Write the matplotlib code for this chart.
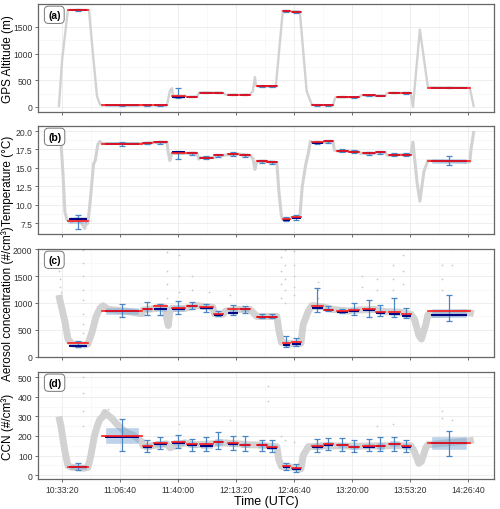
import numpy as np
import matplotlib
matplotlib.use("Agg")
import matplotlib.pyplot as plt
from matplotlib.patches import Rectangle
from matplotlib.ticker import FuncFormatter

plt.rcParams['font.family'] = ['Liberation Sans', 'DejaVu Sans']

# time in minutes after 10:00:00 UTC
seg_start = [36.8, 56.3, 79.9, 86.2, 96.6, 105.2, 112.6, 120.7, 128.7, 135.6, 145.4, 151.4,
             160.3, 165.5, 177.0, 183.9, 191.4, 198.3, 206.3, 213.8, 221.3, 228.7, 243.7]
seg_end = [48.3, 79.3, 85.1, 93.7, 104.0, 110.9, 120.1, 125.9, 134.5, 141.4, 151.0, 156.9,
           164.4, 170.7, 183.3, 189.1, 197.7, 204.0, 213.2, 219.0, 227.6, 233.9, 267.8]

# (a) GPS altitude
alt_t = [31.6, 33.5, 36.8, 48.9, 50.6, 53.5, 55.2, 56.3, 93.7, 95.4, 96.6, 97.2, 104.0, 105.2,
         110.9, 112.0, 112.6, 120.1, 125.9, 127.5, 141.4, 143.1, 144.3, 144.9, 145.4, 156.3,
         160.3, 170.1, 174.0, 177.0, 189.1, 190.5, 204.0, 205.5, 219.0, 220.5, 233.9, 235.1,
         239.1, 243.7, 267.8, 270.1]
alt_v = [0, 900, 1820, 1820, 1200, 200, 50, 30, 30, 300, 350, 215, 210, 190,
         190, 260, 275, 270, 265, 230, 230, 300, 560, 400, 390, 385,
         1800, 1790, 300, 40, 30, 180, 185, 220, 215, 265, 262, 0,
         1450, 370, 360, 0]
alt_mean = [1820, 30, 30, 30, 212, 194, 270, 265, 230, 230, 390, 385,
            1800, 1785, 35, 30, 190, 185, 220, 215, 265, 262, 360]
alt_med = [1820, 30, 30, 30, 181, 194, 270, 265, 230, 230, 390, 385,
           1800, 1785, 35, 30, 190, 185, 220, 215, 265, 262, 360]
alt_q1 = [1812, 25, 25, 25, 175, 188, 264, 259, 224, 224, 384, 379,
          1792, 1777, 29, 24, 184, 179, 214, 209, 259, 256, 354]
alt_q3 = [1828, 35, 35, 35, 230, 200, 276, 271, 236, 236, 396, 391,
          1808, 1793, 41, 36, 196, 191, 226, 221, 271, 268, 366]
alt_lo = [1805, 20, 20, 20, 170, 185, 260, 255, 220, 220, 380, 375,
          1785, 1770, 25, 20, 180, 175, 210, 205, 255, 252, 350]
alt_hi = [1835, 40, 40, 40, 350, 205, 280, 275, 240, 240, 400, 395,
          1815, 1800, 45, 40, 200, 195, 230, 225, 275, 272, 370]

# (b) temperature
tmp_t = [31.6, 32.8, 34.0, 35.1, 36.2, 38.0, 42.0, 45.0, 46.5, 47.5, 48.3, 50.0, 51.5, 52.5,
         54.0, 55.2, 56.3, 79.3, 85.1, 93.7, 94.5, 95.4, 96.6, 104.0, 110.9, 112.0, 112.6,
         120.1, 125.9, 134.5, 141.4, 143.1, 144.3, 145.4, 151.2, 156.9, 158.0, 159.5, 160.3,
         164.4, 165.5, 170.1, 171.5, 173.5, 175.0, 176.2, 177.0, 183.3, 189.1, 190.0, 191.4,
         197.7, 204.0, 205.3, 206.3, 213.2, 219.0, 220.5, 227.6, 233.9, 235.1, 237.5, 239.1,
         241.4, 243.7, 255.0, 267.8, 268.5, 270.1]
tmp_v = [19.8, 18.5, 14.0, 9.0, 8.0, 7.6, 8.1, 7.4, 6.8, 7.6, 7.5, 11.5, 15.5, 16.0,
         18.2, 18.6, 18.3, 18.3, 18.4, 18.5, 17.0, 16.0, 17.0, 17.0, 17.0, 16.2, 16.4,
         16.4, 16.7, 16.9, 16.7, 16.3, 14.8, 15.9, 15.9, 15.7, 12.0, 8.5, 8.0,
         8.1, 8.3, 8.4, 12.5, 15.5, 17.0, 18.6, 18.45, 18.45, 18.6, 17.4, 17.3,
         17.3, 17.2, 16.9, 17.0, 17.0, 17.1, 16.7, 16.8, 16.8, 18.5, 13.0, 10.5,
         14.5, 16.0, 15.9, 15.8, 17.5, 20.0]
tmp_mean = [7.8, 18.3, 18.4, 18.5, 17.0, 17.0, 16.4, 16.7, 16.9, 16.7, 15.9, 15.75,
            8.1, 8.3, 18.45, 18.6, 17.3, 17.2, 17.0, 17.1, 16.8, 16.8, 15.95]
tmp_med = [8.1, 18.3, 18.4, 18.5, 17.1, 17.0, 16.4, 16.7, 16.9, 16.7, 15.9, 15.75,
           8.0, 8.25, 18.4, 18.6, 17.3, 17.2, 17.0, 17.1, 16.8, 16.8, 16.0]
tmp_q1 = [7.55, 18.2, 18.3, 18.4, 16.85, 16.9, 16.3, 16.6, 16.8, 16.6, 15.8, 15.65,
          7.95, 8.15, 18.35, 18.5, 17.2, 17.1, 16.9, 17.0, 16.7, 16.7, 15.7]
tmp_q3 = [8.3, 18.45, 18.5, 18.6, 17.2, 17.1, 16.5, 16.8, 17.0, 16.8, 16.0, 15.85,
          8.25, 8.45, 18.55, 18.7, 17.4, 17.3, 17.1, 17.2, 16.9, 16.9, 16.2]
tmp_lo = [6.75, 18.0, 18.2, 18.3, 16.2, 16.8, 16.2, 16.5, 16.6, 16.5, 15.7, 15.55,
          7.8, 8.0, 18.25, 18.4, 17.1, 17.0, 16.8, 16.9, 16.6, 16.6, 15.4]
tmp_hi = [8.6, 18.5, 18.55, 18.65, 17.3, 17.2, 16.6, 16.9, 17.2, 16.9, 16.1, 15.95,
          8.4, 8.6, 18.65, 18.8, 17.5, 17.4, 17.2, 17.3, 17.0, 17.0, 16.6]

# (c) aerosol concentration
aer_t = [31.6, 32.2, 33.3, 35.1, 36.8, 39.1, 42.0, 46.5, 48.3, 50.6, 53.0, 55.2, 57.0, 60.0,
         70.0, 79.3, 80.0, 85.1, 90.0, 92.5, 93.7, 94.5, 95.4, 96.6, 104.0, 110.9, 120.1,
         121.0, 125.9, 127.5, 134.5, 141.4, 145.4, 156.9, 158.0, 159.5, 164.4, 170.7, 172.0,
         175.0, 177.0, 183.3, 189.0, 197.7, 204.0, 213.2, 219.0, 227.6, 233.9, 236.0, 238.5,
         240.0, 242.5, 243.7, 256.0, 267.8, 270.1]
aer_v = [1150, 1050, 900, 650, 330, 240, 220, 220, 240, 450, 750, 900, 950, 880,
         850, 800, 870, 890, 930, 920, 700, 580, 850, 900, 900, 950, 920,
         800, 790, 850, 880, 880, 750, 750, 500, 270, 240, 250, 600,
         850, 950, 930, 880, 850, 870, 880, 840, 830, 790, 700, 400,
         330, 600, 780, 800, 820, 800]
aer_out_t = [31.8, 32.0, 32.3, 32.6, 45.4, 45.4, 45.4, 45.4, 45.4, 45.4, 45.4, 45.4,
             93.5, 93.5, 93.5, 93.5, 100.9, 100.9, 100.9, 108.0, 108.0, 118.0, 130.0,
             159.5, 159.5, 159.5, 159.5, 159.5, 161.8, 161.8, 161.8, 161.8, 161.8, 166.8,
             166.8, 166.8, 166.8, 166.8, 180.5, 180.5, 180.5, 205.7, 205.7, 214.4, 214.4,
             223.6, 223.6, 223.6, 229.5, 229.5, 229.5, 251.7, 251.7, 251.7, 257.5, 257.5]
aer_out_v = [1600, 1450, 1300, 1200, 1980, 1750, 1500, 1250, 1050, 800, 600, 450,
             1950, 1600, 1350, 1100, 1900, 1500, 1200, 1500, 1250, 1200, 1150,
             2000, 1850, 1600, 1350, 1100, 1980, 1700, 1450, 1250, 1000, 1960,
             1700, 1500, 1300, 1150, 1400, 1250, 1100, 1500, 1300, 1450, 1250,
             1700, 1450, 1250, 1900, 1600, 1350, 1700, 1450, 1250, 2000, 1700]
aer_mean = [250, 860, 891, 935, 905, 953, 923, 792, 886, 886, 748, 748,
            256, 269, 953, 879, 848, 879, 891, 835, 841, 798, 860]
aer_med = [206, 850, 880, 891, 890, 945, 915, 785, 817, 880, 745, 745,
           219, 243, 910, 870, 840, 860, 870, 815, 798, 754, 779]
aer_q1 = [195, 800, 850, 860, 860, 920, 890, 770, 800, 855, 730, 730,
          205, 225, 880, 860, 830, 840, 845, 795, 775, 740, 736]
aer_q3 = [240, 905, 915, 925, 935, 970, 945, 810, 900, 905, 760, 760,
          260, 280, 960, 900, 860, 905, 910, 850, 850, 800, 891]
aer_lo = [190, 736, 780, 780, 798, 890, 840, 760, 780, 820, 720, 715,
          180, 200, 841, 850, 820, 779, 748, 766, 741, 720, 673]
aer_hi = [300, 985, 1017, 975, 1035, 1010, 990, 850, 960, 950, 790, 790,
          381, 344, 1278, 935, 880, 1004, 1047, 972, 1091, 904, 1153]

# (d) CCN
ccn_t = [31.6, 32.8, 34.0, 35.1, 36.8, 39.0, 46.0, 48.3, 50.0, 52.0, 54.0, 55.2, 57.0, 58.0,
         62.0, 66.0, 70.0, 75.0, 79.3, 80.0, 85.0, 93.7, 95.4, 104.0, 110.0, 120.0, 126.0,
         134.5, 141.4, 145.4, 156.9, 158.0, 159.5, 164.4, 170.7, 172.0, 175.0, 183.0, 204.0,
         219.0, 233.9, 236.0, 238.5, 240.0, 242.5, 243.7, 255.0, 267.8, 270.1]
ccn_v = [300, 250, 180, 120, 48, 40, 35, 40, 100, 200, 260, 285, 300, 320,
         290, 250, 220, 200, 170, 150, 150, 160, 140, 165, 155, 160, 165,
         160, 155, 154, 145, 80, 45, 42, 32, 100, 145, 150, 148,
         150, 150, 120, 60, 70, 140, 155, 165, 175, 180]
ccn_out_t = [45.4, 45.4, 45.4, 45.4, 58.0, 60.0, 100.9, 130.0, 151.8, 151.8, 159.5, 161.8,
             166.8, 214.4, 223.6, 251.7, 251.7, 257.5]
ccn_out_v = [500, 420, 330, 250, 330, 340, 260, 280, 455, 380, 200, 180,
             170, 250, 260, 327, 290, 280]
ccn_mean = [42, 201, 147, 164, 171, 159, 159, 171, 162, 155, 154, 145,
            44, 34, 147, 159, 154, 145, 148, 150, 159, 147, 164]
ccn_med = [40, 195, 145, 160, 165, 155, 150, 168, 158, 152, 152, 140,
           42, 30, 145, 156, 152, 143, 146, 147, 160, 145, 162]
ccn_q1 = [33, 164, 135, 150, 155, 145, 140, 155, 148, 142, 142, 132,
          36, 26, 135, 148, 142, 133, 136, 135, 148, 135, 133]
ccn_q3 = [50, 239, 158, 175, 180, 168, 165, 185, 172, 165, 165, 155,
          50, 40, 160, 170, 165, 155, 158, 163, 175, 158, 193]
ccn_lo = [26, 123, 119, 133, 137, 125, 124, 133, 130, 125, 124, 120,
          28, 15, 119, 130, 122, 119, 122, 123, 125, 120, 99]
ccn_hi = [61, 287, 181, 196, 205, 185, 193, 222, 200, 198, 181, 180,
          62, 55, 184, 190, 190, 181, 183, 193, 196, 181, 227]

x_ticks = [33.333, 66.667, 100.0, 133.333, 166.667, 200.0, 233.333, 266.667]


def fmt_time(m, pos=None):
    s = int(round(36000 + m * 60))
    return "%02d:%02d:%02d" % (s // 3600, (s % 3600) // 60, s % 60)


def draw_panel(ax, t, v, stats, lw, out=None):
    mean, med, q1, q3, lo, hi = stats
    ax.plot(t, v, color='#d2d2d2', lw=lw, solid_capstyle='butt', solid_joinstyle='round', zorder=1)
    if out is not None:
        ax.scatter(out[0], out[1], s=1.5, color='#c8c8c8', lw=0, zorder=1)
    for i in range(len(seg_start)):
        a, b = seg_start[i], seg_end[i]
        c = (a + b) / 2
        w = (b - a) * 0.8
        ax.add_patch(Rectangle((c - w / 2, q1[i]), w, q3[i] - q1[i], fc='#6f9fd0', ec='#8fb3d9',
                               lw=0.4, alpha=0.45, zorder=2))
        ax.errorbar([c], [med[i]], yerr=[[med[i] - lo[i]], [hi[i] - med[i]]], fmt='none',
                    ecolor='#4a86c5', elinewidth=0.9, capsize=2.5, capthick=0.9, zorder=3)
        ax.plot([c - w / 2, c + w / 2], [med[i], med[i]], color='#000080', lw=1.4, zorder=4)
        ax.plot([a, b], [mean[i], mean[i]], color='#ff1a1a', lw=1.2, zorder=5)


fig = plt.figure(figsize=(5.0, 5.1), dpi=100)
L, W = 38 / 500, 456 / 500
rows = [(5, 113), (127, 235), (250, 358), (373, 480)]
axes = []
for top, bot in rows:
    axes.append(fig.add_axes([L, 1 - bot / 510, W, (bot - top) / 510]))

draw_panel(axes[0], alt_t, alt_v, (alt_mean, alt_med, alt_q1, alt_q3, alt_lo, alt_hi), 1.7)
draw_panel(axes[1], tmp_t, tmp_v, (tmp_mean, tmp_med, tmp_q1, tmp_q3, tmp_lo, tmp_hi), 2.2)
draw_panel(axes[2], aer_t, aer_v, (aer_mean, aer_med, aer_q1, aer_q3, aer_lo, aer_hi), 5.0,
           (aer_out_t, aer_out_v))
draw_panel(axes[3], ccn_t, ccn_v, (ccn_mean, ccn_med, ccn_q1, ccn_q3, ccn_lo, ccn_hi), 5.0,
           (ccn_out_t, ccn_out_v))

axes[0].set_ylim(-94, 1931)
axes[0].set_yticks([0, 500, 1000, 1500])
axes[1].set_ylim(6.05, 20.68)
axes[1].set_yticks([7.5, 10.0, 12.5, 15.0, 17.5, 20.0])
axes[1].yaxis.set_major_formatter(FuncFormatter(lambda v, p: "%.1f" % v))
axes[2].set_ylim(-5, 2005)
axes[2].set_yticks([0, 500, 1000, 1500, 2000])
axes[3].set_ylim(-20, 527)
axes[3].set_yticks([0, 100, 200, 300, 400, 500])

ylabels = ["GPS Altitude (m)", "Temperature (°C)", "Aerosol concentration (#/cm³)", "CCN (#/cm³)"]
tags = ["(a)", "(b)", "(c)", "(d)"]
for i, ax in enumerate(axes):
    ax.set_xlim(19.6, 281.7)
    ax.set_xticks(x_ticks)
    ax.xaxis.set_major_formatter(FuncFormatter(fmt_time))
    yt = ax.get_yticks()
    ax.set_yticks([(yt[k] + yt[k + 1]) / 2 for k in range(len(yt) - 1)], minor=True)
    ax.set_xticks([x + 16.667 for x in x_ticks[:-1]], minor=True)
    ax.grid(which='major', color='#ebebeb', lw=0.6)
    ax.grid(which='minor', color='#f4f4f4', lw=0.4)
    ax.set_axisbelow(True)
    ax.tick_params(which='major', length=2.5, width=0.6, color='#555555', labelsize=6.2,
                   labelcolor='#333333', pad=1.5)
    ax.tick_params(which='minor', length=0)
    for sp in ax.spines.values():
        sp.set_color('#666666')
        sp.set_linewidth(0.9)
    ax.set_ylabel(ylabels[i], fontsize=8.5)
    ax.yaxis.set_label_coords(-0.053, 0.5)
    ax.text(0.022, 0.9, tags[i], transform=ax.transAxes, fontsize=7.5, fontweight='bold',
            va='center', ha='left',
            bbox=dict(boxstyle='round,pad=0.35,rounding_size=0.4', fc='white', ec='#777777', lw=0.7))
    if i < 3:
        ax.tick_params(labelbottom=False)

axes[3].set_xlabel("Time (UTC)", fontsize=9, labelpad=1)

fig.savefig("out.png", dpi=100)
